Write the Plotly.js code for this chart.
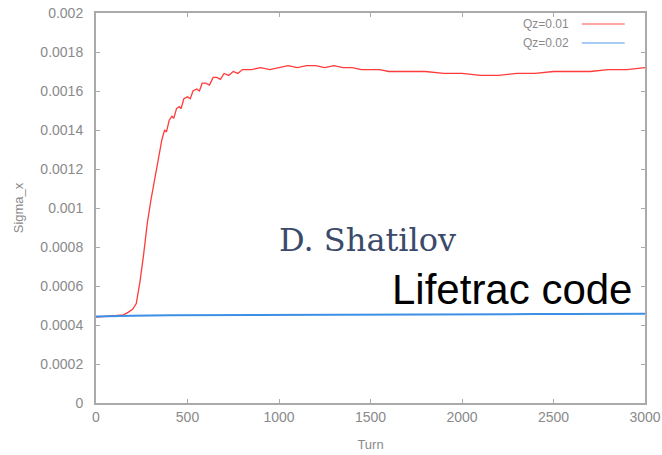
<!DOCTYPE html>
<html><head><meta charset="utf-8">
<script src="https://cdn.plot.ly/plotly-3.0.1.min.js"></script>
<style>html,body{margin:0;padding:0;background:#fff}</style>
</head><body><div id="chart" style="width:662px;height:455px"></div>
<script>
const seriesNames = ["Qz=0.01", "Qz=0.02"];
const seriesColors = ["#ff3b3b", "#3d8fe6"];

const turnsRed = [0, 50, 100, 150, 175, 200, 220, 240, 260, 280, 300, 320, 340, 360, 375, 385, 400, 415, 425, 440, 455, 465, 480, 500, 515, 530, 550, 565, 580, 600, 620, 640, 660, 680, 700, 725, 750, 775, 800, 850, 900, 950, 1000, 1050, 1100, 1150, 1200, 1250, 1300, 1350, 1400, 1450, 1500, 1550, 1600, 1700, 1800, 1900, 2000, 2100, 2200, 2300, 2400, 2500, 2600, 2700, 2800, 2900, 3000];
const sigmaRed = [0.000440, 0.000445, 0.000448, 0.000452, 0.000465, 0.00048, 0.00051, 0.00062, 0.00076, 0.00092, 0.00104, 0.00115, 0.00125, 0.00135, 0.00140, 0.00139, 0.00145, 0.00147, 0.00146, 0.00151, 0.00152, 0.00151, 0.00156, 0.00157, 0.00156, 0.00160, 0.00161, 0.00160, 0.00164, 0.00164, 0.00163, 0.00167, 0.00167, 0.00166, 0.00169, 0.00168, 0.00170, 0.00169, 0.00171, 0.00171, 0.00172, 0.00171, 0.00172, 0.00173, 0.00172, 0.00173, 0.00173, 0.00172, 0.00173, 0.00172, 0.00172, 0.00171, 0.00171, 0.00171, 0.00170, 0.00170, 0.00170, 0.00169, 0.00169, 0.00168, 0.00168, 0.00169, 0.00169, 0.00170, 0.00170, 0.00170, 0.00171, 0.00171, 0.00172];

const turnsBlue = [0, 100, 200, 400, 600, 800, 1000, 1200, 1400, 1600, 1800, 2000, 2200, 2400, 2600, 2800, 3000];
const sigmaBlue = [0.000443, 0.000446, 0.000448, 0.000450, 0.000451, 0.000452, 0.000452, 0.000453, 0.000453, 0.000454, 0.000454, 0.000455, 0.000455, 0.000456, 0.000456, 0.000457, 0.000458];

const xTicks = [0, 500, 1000, 1500, 2000, 2500, 3000];
const yTicks = [0, 0.0002, 0.0004, 0.0006, 0.0008, 0.001, 0.0012, 0.0014, 0.0016, 0.0018, 0.002];
const yTickText = ["0", "0.0002", "0.0004", "0.0006", "0.0008", "0.001", "0.0012", "0.0014", "0.0016", "0.0018", "0.002"];

const traces = [
  {x: turnsRed, y: sigmaRed, name: seriesNames[0], type: "scatter", mode: "lines", line: {color: seriesColors[0], width: 1.3}},
  {x: turnsBlue, y: sigmaBlue, name: seriesNames[1], type: "scatter", mode: "lines", line: {color: seriesColors[1], width: 2}}
];

const tickFont = {family: "Liberation Sans, Arial, sans-serif", size: 14, color: "#8a8a8a"};
const axisCommon = {
  showline: true, mirror: "ticks", linecolor: "#aaaaaa", linewidth: 2,
  ticks: "inside", ticklen: 4, tickcolor: "#aaaaaa", tickwidth: 1,
  showgrid: false, zeroline: false, tickfont: tickFont
};

const shapes = [];
const annotations = [];
const legY = [0.972, 0.923];
seriesNames.forEach((n, i) => {
  annotations.push({xref: "paper", yref: "paper", x: 0.866, y: legY[i], text: n, showarrow: false,
    xanchor: "right", yanchor: "middle", font: {family: "Liberation Sans, Arial, sans-serif", size: 12, color: "#8a8a8a"}});
  shapes.push({type: "line", xref: "paper", yref: "paper", x0: 0.885, x1: 0.963, y0: legY[i], y1: legY[i],
    line: {color: seriesColors[i], width: 1.5, dash: "solid"}, opacity: 0.6});
});
annotations.push({xref: "paper", yref: "paper", x: 0.495, y: 0.418, text: "D. Shatilov", showarrow: false,
  xanchor: "center", yanchor: "middle", font: {family: "DejaVu Serif, serif", size: 32, color: "#3b4a6b"}});
annotations.push({xref: "paper", yref: "paper", x: 0.757, y: 0.292, text: "Lifetrac code", showarrow: false,
  xanchor: "center", yanchor: "middle", font: {family: "Liberation Sans, Arial, sans-serif", size: 42, color: "#000000"}});

const layout = {
  width: 662, height: 455,
  margin: {l: 96, r: 17, t: 13, b: 52},
  paper_bgcolor: "#ffffff", plot_bgcolor: "#ffffff",
  showlegend: false,
  xaxis: Object.assign({}, axisCommon, {range: [0, 3000], tickvals: xTicks, ticktext: xTicks.map(String),
    title: {text: "Turn", font: {family: "Liberation Sans, Arial, sans-serif", size: 13, color: "#8a8a8a"}, standoff: 16}}),
  yaxis: Object.assign({}, axisCommon, {range: [0, 0.002], tickvals: yTicks, ticktext: yTickText, ticklabelstandoff: 8,
    title: {text: "Sigma_x", font: {family: "Liberation Sans, Arial, sans-serif", size: 13, color: "#8a8a8a"}, standoff: 14}}),
  shapes: shapes,
  annotations: annotations
};

Plotly.newPlot("chart", traces, layout, {staticPlot: true, displayModeBar: false});
</script>
</body></html>
